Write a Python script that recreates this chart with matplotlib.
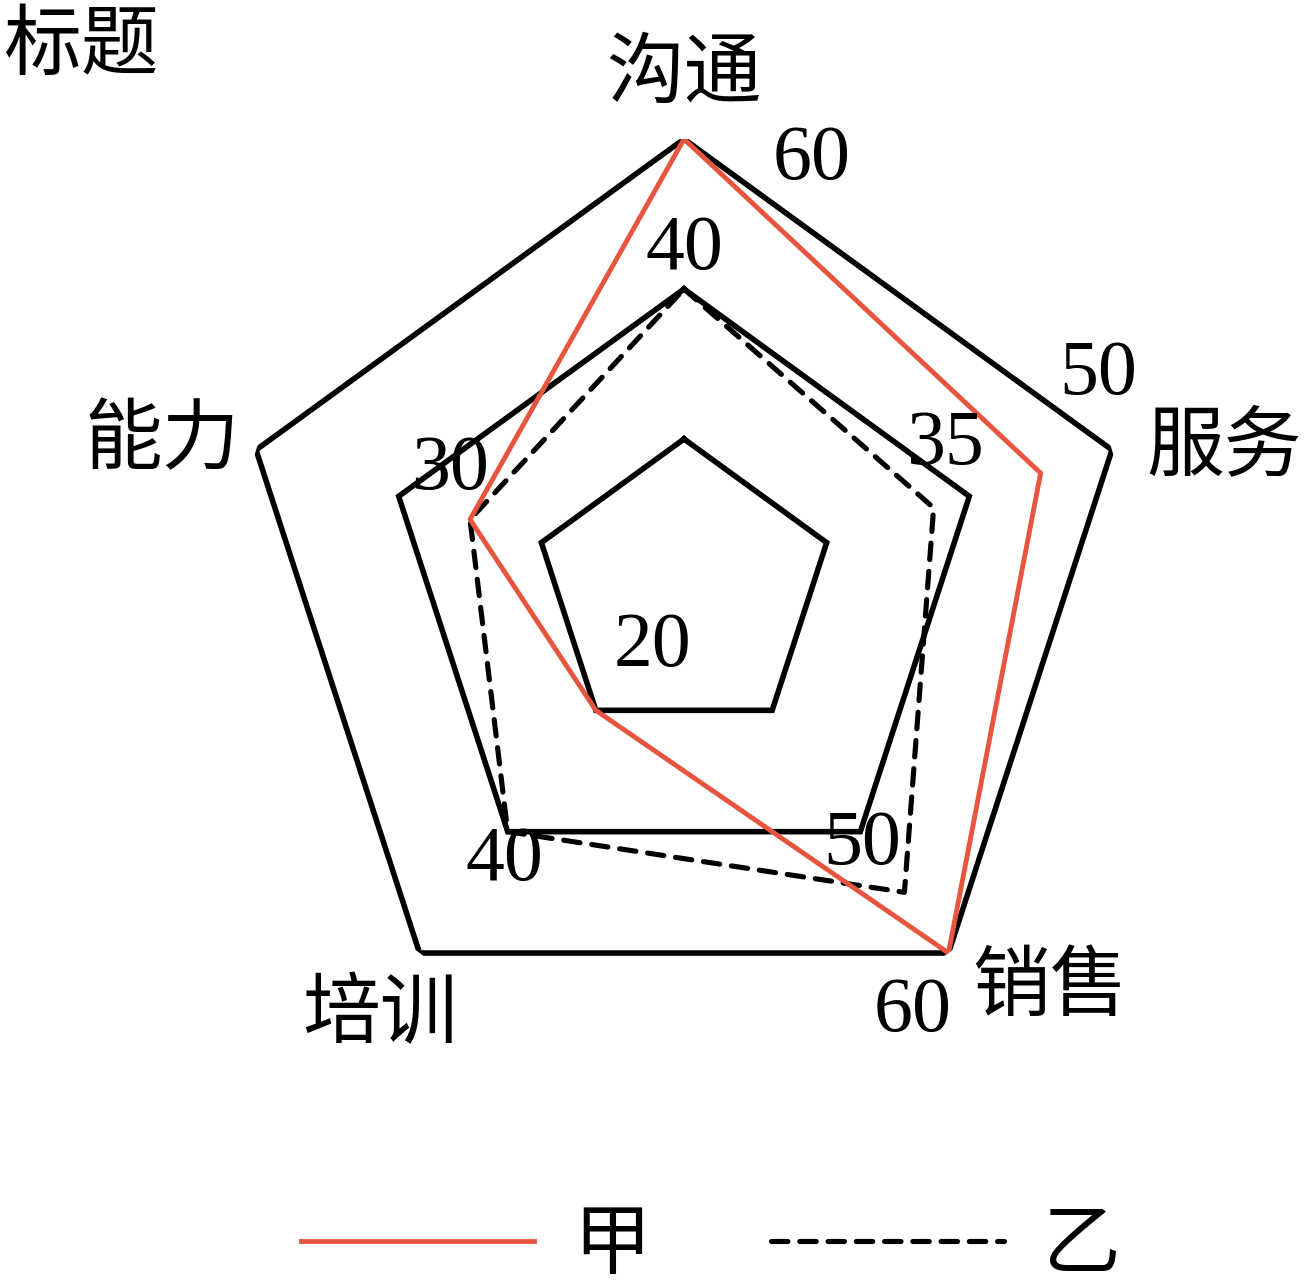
import numpy as np
import matplotlib
matplotlib.use("Agg")
import matplotlib.pyplot as plt

plt.rcParams['font.family'] = ['Liberation Serif', 'Noto Sans CJK SC', 'DejaVu Sans']

# data
categories = ["沟通", "服务", "销售", "培训", "能力"]
jia = [60, 50, 60, 20, 30]
yi = [40, 35, 50, 40, 30]
grid_levels = [20, 40, 60]
series_names = ["甲", "乙"]

red = "#e8553f"
fs = 56

n = len(categories)
theta = np.deg2rad(np.arange(n) * 360.0 / n)
theta_c = np.append(theta, theta[0])

fig = plt.figure(figsize=(13.09, 12.86), dpi=100)
# polar axes centred at ~(684, 589) px, radius 450 px
ax = fig.add_axes([0.1788, 0.1921, 0.6875, 0.6998], projection="polar")
ax.set_theta_offset(np.pi / 2)
ax.set_theta_direction(-1)
ax.set_ylim(0, 60)
ax.grid(False)
ax.set_xticks([])
ax.set_yticks([])
ax.spines["polar"].set_visible(False)
ax.patch.set_visible(False)

for lv in grid_levels:
    ax.plot(theta_c, [lv] * (n + 1), color="black", lw=4.0, solid_joinstyle="miter", zorder=1)

l1, = ax.plot(theta_c, jia + jia[:1], color=red, lw=3.5, zorder=3, label=series_names[0])
l2, = ax.plot(theta_c, yi + yi[:1], color="black", lw=3.7, ls=(0, (3.2, 2.3)),
              dash_capstyle="round", zorder=2, label=series_names[1])

# category labels (angle in degrees, radius in data units)
cat_pos = [(0, 68.5), (75.3, 74.5), (137.5, 72.2), (215.5, 69.8), (285.8, 72.3)]
for name, (a, r) in zip(categories, cat_pos):
    ax.text(np.deg2rad(a), r, name, fontsize=fs, ha="center", va="center",
            family=["Noto Sans CJK SC"])

# value labels
val_labels = [
    (jia[0], 16.6, 59.7), (yi[0], 0, 45.2),
    (jia[1], 62.7, 62.1), (yi[1], 61.1, 39.8),
    (jia[4], -63.0, 35.0),
    (jia[3], 208.5, 8.9), (yi[3], 213.3, 43.5),
    (yi[2], 145.2, 41.6), (jia[2], 151.6, 64.2),
]
for v, a, r in val_labels:
    ax.text(np.deg2rad(a), r, str(v), fontsize=fs, ha="center", va="center")

fig.text(0.002, 0.963, "标题", fontsize=fs, ha="left", va="center",
         family=["Noto Sans CJK SC"])

leg = fig.legend(handles=[l1, l2], loc="center", bbox_to_anchor=(0.543, 0.031),
                 ncol=2, frameon=False, handlelength=3.0, handletextpad=0.5,
                 columnspacing=1.55, borderpad=0,
                 prop={"family": ["Noto Sans CJK SC"], "size": fs})

fig.savefig("out.png", dpi=100)
